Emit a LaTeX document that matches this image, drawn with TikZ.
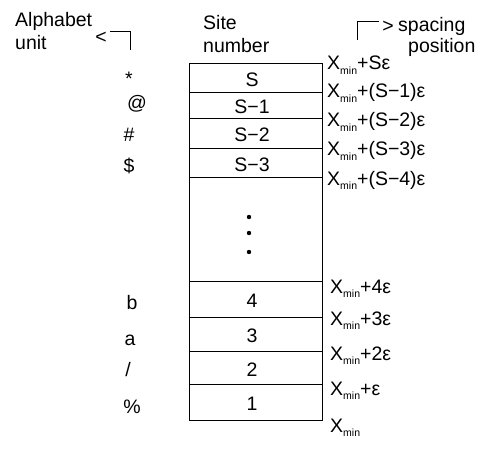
\documentclass[tikz,border=0pt]{standalone}
\usepackage{fontspec}
\setmainfont{Liberation Sans}
\newcommand{\xmin}{X\raisebox{-4.5pt}{\fontsize{10.5}{10.5}\selectfont min}}
\newcommand{\eps}{ε}

\begin{document}
\begin{tikzpicture}[x=1pt,y=-1pt,
    txt/.style={font=\fontsize{19.5}{23}\selectfont,inner sep=0pt},
    wire/.style={line width=0.8pt}]
    \useasboundingbox (0,0) rectangle (489,457);
    %headers
    \node[txt,anchor=base west] (alpha) at (15,27) {Alphabet};
    \node[txt,anchor=base west] (unit) at (15,50) {unit};
    \node[txt] (ltip) at (101,37.5) {<};
    \coordinate (lend) at (130,50);
    \draw[wire] ([xshift=3pt]ltip.north east) -| (lend);
    \node[txt,anchor=base west] (site) at (203,30) {Site};
    \node[txt,anchor=base west] (number) at (203,53) {number};
    \coordinate (rstart) at (357,40);
    \node[txt] (rtip) at (388,27) {>};
    \draw[wire] (rstart) |- ([xshift=-3pt]rtip.north west);
    \node[txt,anchor=base west] (spacing) at (398,32) {spacing};
    \node[txt,anchor=base west] (position) at (408,53) {position};

    %alphabet units
    \foreach \x/\y/\n/\s in {129/86/u0/*, 137/110/u1/@, 129/142/u2/\#, 129/172/u3/\$,
                             132/309/u4/b, 130/345/u5/a, 128/376/u6/{/}, 132/413/u7/\%}
      \node[txt,anchor=base] (\n) at (\x,\y) {\s};

    %sites
    \foreach \t/\b/\n/\s in {63/92/c0/S, 92/118/c1/S−1, 118/148/c2/S−2, 148/177/c3/S−3,
                             281/317/c4/4, 317/351/c5/3, 351/384/c6/2, 384/420/c7/1} {
      \draw[wire] (189,\t) rectangle (322,\b);
      \node[txt] (\n) at (252,{(\t+\b)/2+2}) {\s};
    }
    \draw[wire] (189,177) rectangle (322,281);
    \foreach \y in {217,233,252}
      \fill (249,\y) circle[radius=2.2pt];

    %spacing positions
    \foreach \y/\n/\s in {70/p0/\xmin+S\eps, 98/p1/\xmin+(S−1)\eps, 127/p2/\xmin+(S−2)\eps,
                          156/p3/\xmin+(S−3)\eps, 185/p4/\xmin+(S−4)\eps}
      \node[txt,anchor=base west] (\n) at (327,\y) {\s};
    \foreach \y/\n/\s in {293/p5/\xmin+4\eps, 325/p6/\xmin+3\eps, 360/p7/\xmin+2\eps,
                          395/p8/\xmin+\eps, 432/p9/\xmin}
      \node[txt,anchor=base west] (\n) at (330,\y) {\s};
\end{tikzpicture}
\end{document}
